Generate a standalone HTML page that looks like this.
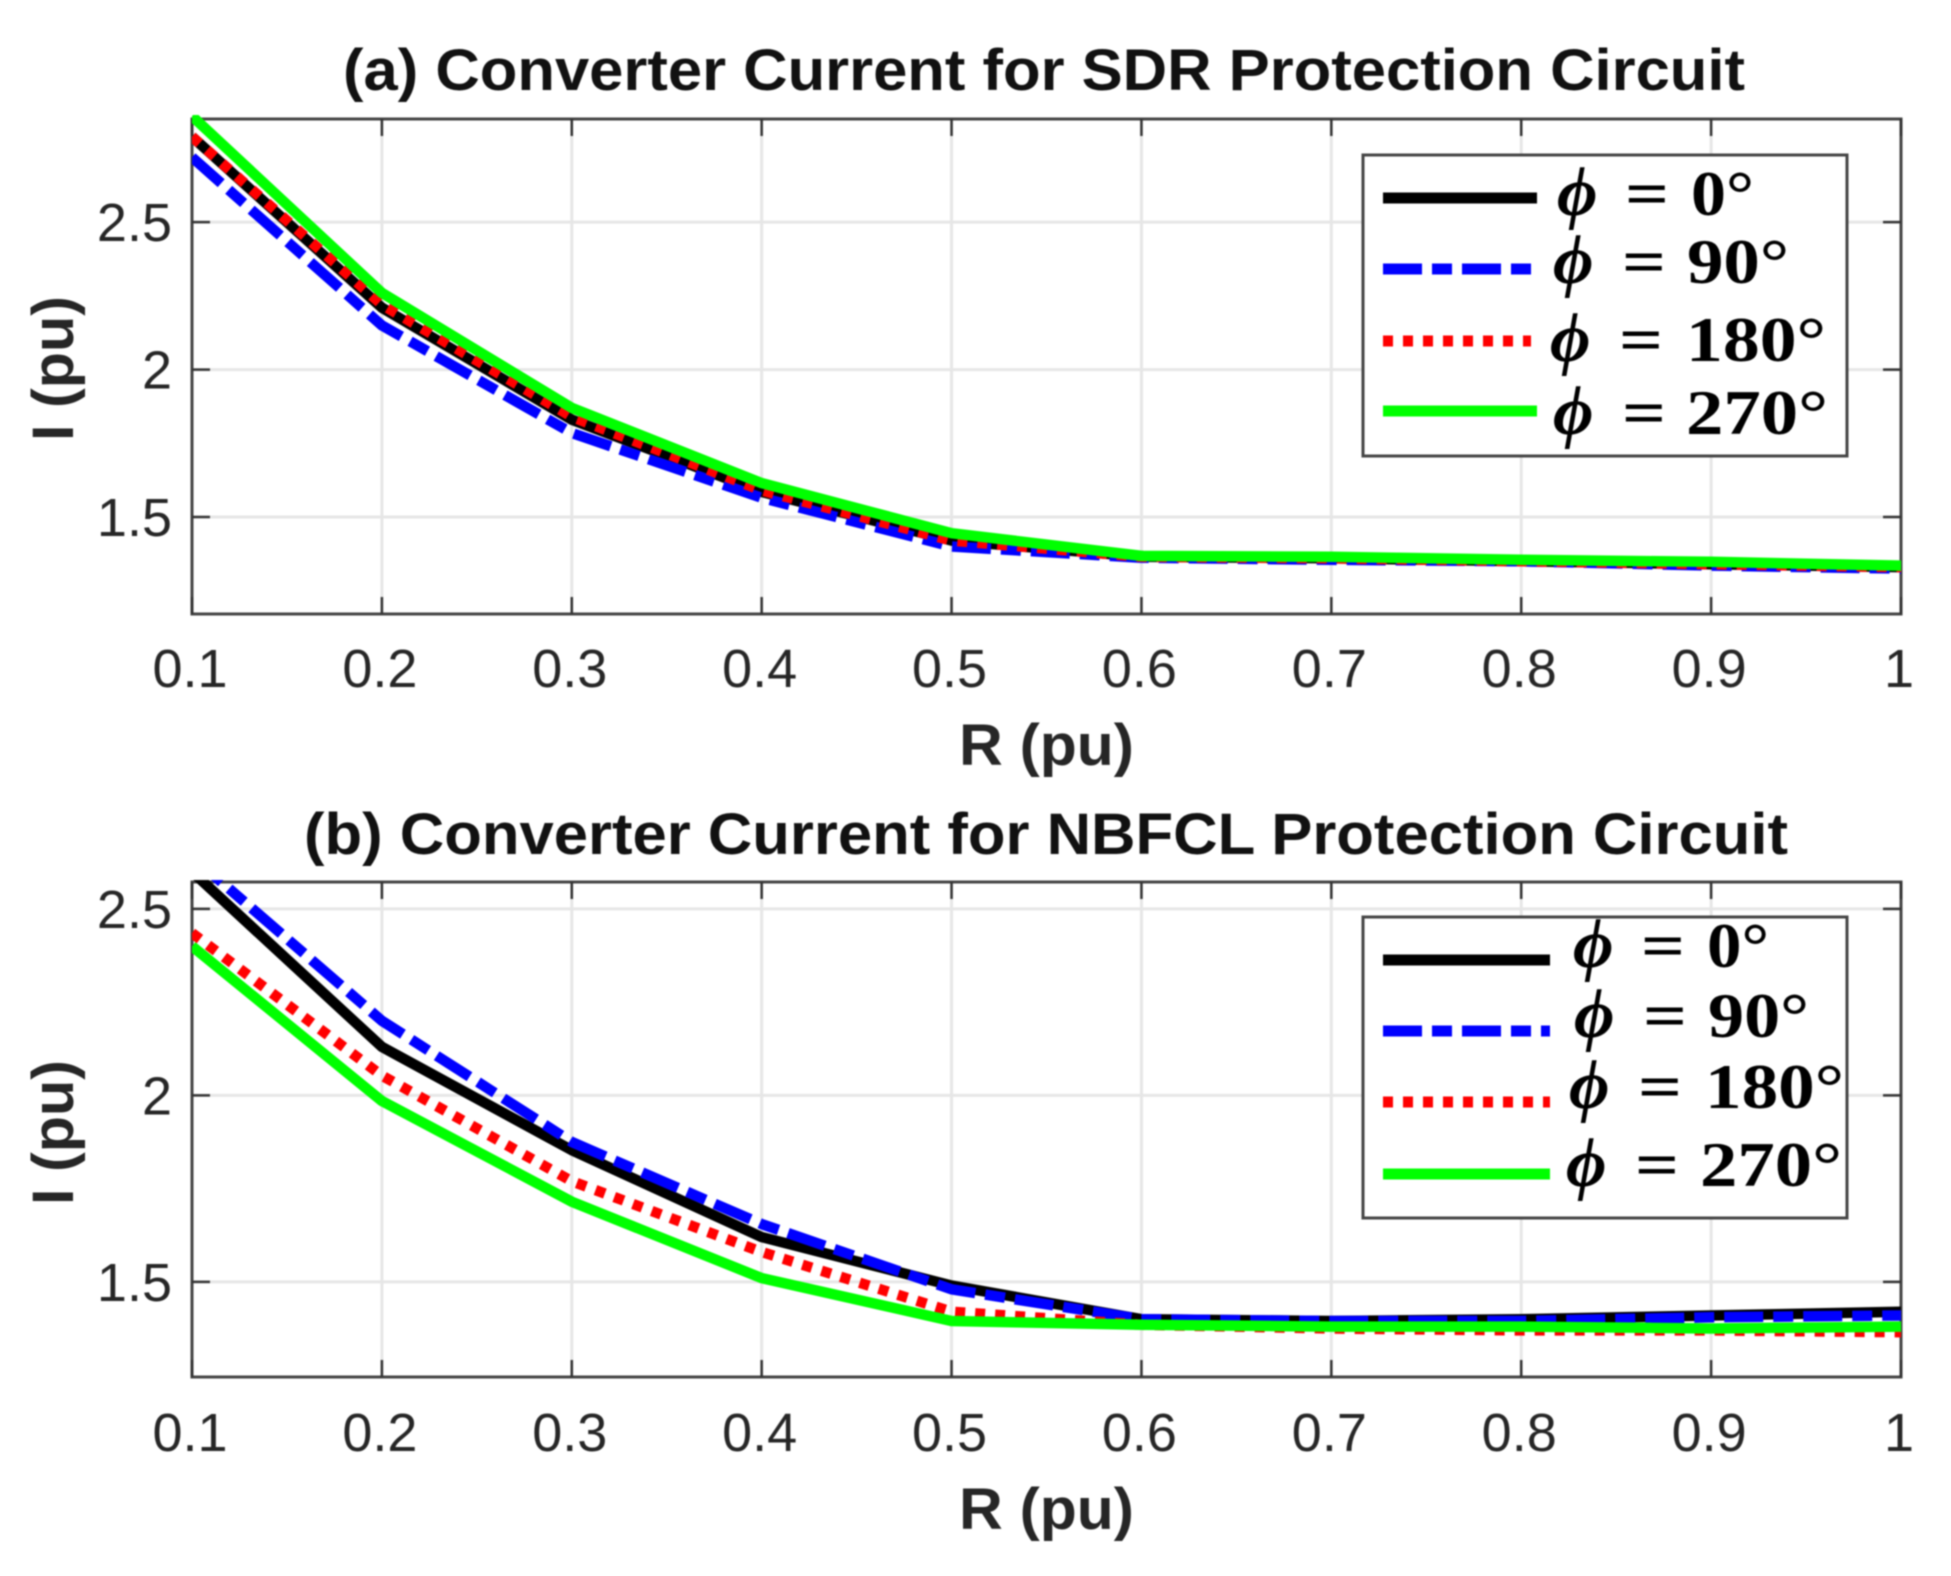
<!DOCTYPE html>
<html lang="en">
<head>
<meta charset="utf-8">
<title>Converter Current for SDR and NBFCL Protection Circuits</title>
<style>
html,body{margin:0;padding:0;background:#fff;width:1951px;height:1576px;overflow:hidden}
svg{display:block;filter:blur(0.7px)}
.ttl{font:bold 58px "Liberation Sans",sans-serif;fill:#111}
.lab{font:bold 58px "Liberation Sans",sans-serif;fill:#262626}
.tick{font:54px "Liberation Sans",sans-serif;fill:#262626}
.leg{font:bold 64px "Liberation Serif",serif;fill:#000}
.phi{font:italic bold 70px "Liberation Serif","DejaVu Serif",serif;fill:#000}
</style>
</head>
<body>
<svg id="chart" xmlns="http://www.w3.org/2000/svg" width="1951" height="1576" viewBox="0 0 1951 1576">
  <defs>
    <clipPath id="clip-a"><rect x="192" y="115" width="1709" height="499"/></clipPath>
    <clipPath id="clip-b"><rect x="192" y="880" width="1709" height="497"/></clipPath>
  </defs>
  <g id="panel-a"></g>
  <g id="panel-b"></g>

  <text class="ttl" x="343" y="90" textLength="1402" lengthAdjust="spacingAndGlyphs">(a) Converter Current for SDR Protection Circuit</text>
  <text class="ttl" x="304" y="854" textLength="1484" lengthAdjust="spacingAndGlyphs">(b) Converter Current for NBFCL Protection Circuit</text>
  <text class="lab" x="959" y="765" textLength="175" lengthAdjust="spacingAndGlyphs">R (pu)</text>
  <text class="lab" x="959" y="1529" textLength="175" lengthAdjust="spacingAndGlyphs">R (pu)</text>
  <text class="lab" transform="translate(73 441) rotate(-90)" textLength="145" lengthAdjust="spacingAndGlyphs">I (pu)</text>
  <text class="lab" transform="translate(73 1205) rotate(-90)" textLength="145" lengthAdjust="spacingAndGlyphs">I (pu)</text>

  <g>
    <rect x="1363" y="155" width="484" height="301" fill="#fff" stroke="#444" stroke-width="3"/>
    <g>
      <line x1="1383" x2="1537" y1="198" y2="198" stroke="#000" stroke-width="11"/>
      <text class="phi" x="1557" y="215">ϕ</text><text class="leg" x="1625" y="215" textLength="44" lengthAdjust="spacingAndGlyphs">=</text><text class="leg" x="1691" y="215" textLength="63" lengthAdjust="spacingAndGlyphs">0°</text>
    </g>
    <g>
      <line x1="1383" x2="1531" y1="269" y2="269" stroke="#0000ff" stroke-width="11" stroke-dasharray="39 10 20 10"/>
      <text class="phi" x="1553" y="283">ϕ</text><text class="leg" x="1622" y="283" textLength="44" lengthAdjust="spacingAndGlyphs">=</text><text class="leg" x="1687" y="283" textLength="102" lengthAdjust="spacingAndGlyphs">90°</text>
    </g>
    <g>
      <line x1="1383" x2="1531" y1="341" y2="341" stroke="#ff0000" stroke-width="11" stroke-dasharray="10 10"/>
      <text class="phi" x="1550" y="361">ϕ</text><text class="leg" x="1619" y="361" textLength="44" lengthAdjust="spacingAndGlyphs">=</text><text class="leg" x="1686" y="361" textLength="140" lengthAdjust="spacingAndGlyphs">180°</text>
    </g>
    <g>
      <line x1="1383" x2="1537" y1="411" y2="411" stroke="#00ff00" stroke-width="11"/>
      <text class="phi" x="1553" y="434">ϕ</text><text class="leg" x="1622" y="434" textLength="44" lengthAdjust="spacingAndGlyphs">=</text><text class="leg" x="1686" y="434" textLength="142" lengthAdjust="spacingAndGlyphs">270°</text>
    </g>
  </g>

  <g>
    <rect x="1363" y="917" width="484" height="301" fill="#fff" stroke="#444" stroke-width="3"/>
    <g>
      <line x1="1383" x2="1550" y1="960" y2="960" stroke="#000" stroke-width="11"/>
      <text class="phi" x="1573" y="967">ϕ</text><text class="leg" x="1641" y="967" textLength="44" lengthAdjust="spacingAndGlyphs">=</text><text class="leg" x="1707" y="967" textLength="62" lengthAdjust="spacingAndGlyphs">0°</text>
    </g>
    <g>
      <line x1="1383" x2="1550" y1="1031" y2="1031" stroke="#0000ff" stroke-width="11" stroke-dasharray="39 10 20 10"/>
      <text class="phi" x="1574" y="1037">ϕ</text><text class="leg" x="1643" y="1037" textLength="44" lengthAdjust="spacingAndGlyphs">=</text><text class="leg" x="1708" y="1037" textLength="101" lengthAdjust="spacingAndGlyphs">90°</text>
    </g>
    <g>
      <line x1="1383" x2="1550" y1="1102" y2="1102" stroke="#ff0000" stroke-width="11" stroke-dasharray="10 10"/>
      <text class="phi" x="1569" y="1108">ϕ</text><text class="leg" x="1638" y="1108" textLength="44" lengthAdjust="spacingAndGlyphs">=</text><text class="leg" x="1705" y="1108" textLength="139" lengthAdjust="spacingAndGlyphs">180°</text>
    </g>
    <g>
      <line x1="1383" x2="1550" y1="1174" y2="1174" stroke="#00ff00" stroke-width="11"/>
      <text class="phi" x="1566" y="1186">ϕ</text><text class="leg" x="1635" y="1186" textLength="44" lengthAdjust="spacingAndGlyphs">=</text><text class="leg" x="1700" y="1186" textLength="142" lengthAdjust="spacingAndGlyphs">270°</text>
    </g>
  </g>
</svg>
<script>
var categories = [0.1, 0.2, 0.3, 0.4, 0.5, 0.6, 0.7, 0.8, 0.9, 1];
var xTickLabels = ['0.1', '0.2', '0.3', '0.4', '0.5', '0.6', '0.7', '0.8', '0.9', '1'];
var yTicks = [1.5, 2, 2.5];
var yTickLabels = ['1.5', '2', '2.5'];

var sdrPhi0 = [2.79, 2.21, 1.83, 1.585, 1.42, 1.365, 1.36, 1.35, 1.34, 1.33];
var sdrPhi90 = [2.72, 2.15, 1.785, 1.565, 1.40, 1.362, 1.355, 1.35, 1.335, 1.325];
var sdrPhi180 = [2.79, 2.22, 1.84, 1.59, 1.42, 1.365, 1.36, 1.35, 1.34, 1.33];
var sdrPhi270 = [2.86, 2.26, 1.87, 1.615, 1.445, 1.368, 1.365, 1.355, 1.348, 1.335];

var nbfclPhi0 = [2.60, 2.13, 1.853, 1.62, 1.49, 1.40, 1.395, 1.40, 1.41, 1.42];
var nbfclPhi90 = [2.64, 2.20, 1.875, 1.655, 1.48, 1.40, 1.395, 1.395, 1.405, 1.41];
var nbfclPhi180 = [2.435, 2.053, 1.77, 1.58, 1.42, 1.385, 1.375, 1.37, 1.37, 1.365];
var nbfclPhi270 = [2.40, 1.985, 1.715, 1.51, 1.395, 1.385, 1.38, 1.38, 1.375, 1.38];

var SVGNS = 'http://www.w3.org/2000/svg';
function mk(parent, tag, attrs, text) {
  var el = document.createElementNS(SVGNS, tag);
  for (var k in attrs) el.setAttribute(k, attrs[k]);
  if (text !== undefined) el.textContent = text;
  parent.appendChild(el);
  return el;
}
var LEFT = 192, RIGHT = 1901;
function xScale(v) { return LEFT + (v - 0.1) / 0.9 * (RIGHT - LEFT); }
function makeY(dMin, dMax, bottom, top) {
  return function (v) { return bottom - (v - dMin) / (dMax - dMin) * (bottom - top); };
}

function drawPanel(id, clipId, top, bottom, dMin, dMax, xLabelY, series) {
  var g = document.getElementById(id);
  var y = makeY(dMin, dMax, bottom, top);
  var i, el;

  for (i = 0; i < categories.length; i++) {
    el = mk(g, 'line', { x1: xScale(categories[i]), x2: xScale(categories[i]), y1: top, y2: bottom, stroke: '#e6e6e6', 'stroke-width': 3 });
    
    
  }
  for (i = 0; i < yTicks.length; i++) {
    el = mk(g, 'line', { x1: LEFT, x2: RIGHT, y1: y(yTicks[i]), y2: y(yTicks[i]), stroke: '#e6e6e6', 'stroke-width': 3 });
    
    
  }

  var box = mk(g, 'rect', { x: LEFT, y: top, width: RIGHT - LEFT, height: bottom - top, fill: 'none', stroke: '#444', 'stroke-width': 3 });
  
  

  for (i = 0; i < categories.length; i++) {
    var x = xScale(categories[i]);
    el = mk(g, 'line', { x1: x, x2: x, y1: bottom, y2: bottom - 17, stroke: '#333', 'stroke-width': 2.5 });
    
    
    el = mk(g, 'line', { x1: x, x2: x, y1: top, y2: top + 17, stroke: '#333', 'stroke-width': 2.5 });
    
    
    el = mk(g, 'text', { class: 'tick', x: x - 2, y: xLabelY, 'text-anchor': 'middle' }, xTickLabels[i]);
    
    
  }
  for (i = 0; i < yTicks.length; i++) {
    var yy = y(yTicks[i]);
    el = mk(g, 'line', { x1: LEFT, x2: LEFT + 18, y1: yy, y2: yy, stroke: '#333', 'stroke-width': 2.5 });
    
    
    el = mk(g, 'line', { x1: RIGHT, x2: RIGHT - 18, y1: yy, y2: yy, stroke: '#333', 'stroke-width': 2.5 });
    
    
    el = mk(g, 'text', { class: 'tick', x: 172, y: yy + 19, 'text-anchor': 'end' }, yTickLabels[i]);
    
    
  }

  var plot = mk(g, 'g', { 'clip-path': 'url(#' + clipId + ')' });
  
  
  series.forEach(function (s) {
    var pts = s.values.map(function (v, j) { return xScale(categories[j]).toFixed(1) + ',' + y(v).toFixed(1); }).join(' ');
    var attrs = { points: pts, fill: 'none', stroke: s.color, 'stroke-width': 10.5, 'stroke-linejoin': 'round' };
    if (s.dash) attrs['stroke-dasharray'] = s.dash;
    var line = mk(plot, 'polyline', attrs);
    
    
  });
}

drawPanel('panel-a', 'clip-a', 119, 614, 1.171, 2.85, 687, [
  { name: 'line-phi-0', values: sdrPhi0, color: '#000000' },
  { name: 'line-phi-90', values: sdrPhi90, color: '#0000ff', dash: '39 10 20 10' },
  { name: 'line-phi-180', values: sdrPhi180, color: '#ff0000', dash: '10 10' },
  { name: 'line-phi-270', values: sdrPhi270, color: '#00ff00' }
]);
drawPanel('panel-b', 'clip-b', 882, 1377, 1.245, 2.572, 1451, [
  { name: 'line-phi-0', values: nbfclPhi0, color: '#000000' },
  { name: 'line-phi-90', values: nbfclPhi90, color: '#0000ff', dash: '39 10 20 10' },
  { name: 'line-phi-180', values: nbfclPhi180, color: '#ff0000', dash: '10 10' },
  { name: 'line-phi-270', values: nbfclPhi270, color: '#00ff00' }
]);
</script>
</body>
</html>
